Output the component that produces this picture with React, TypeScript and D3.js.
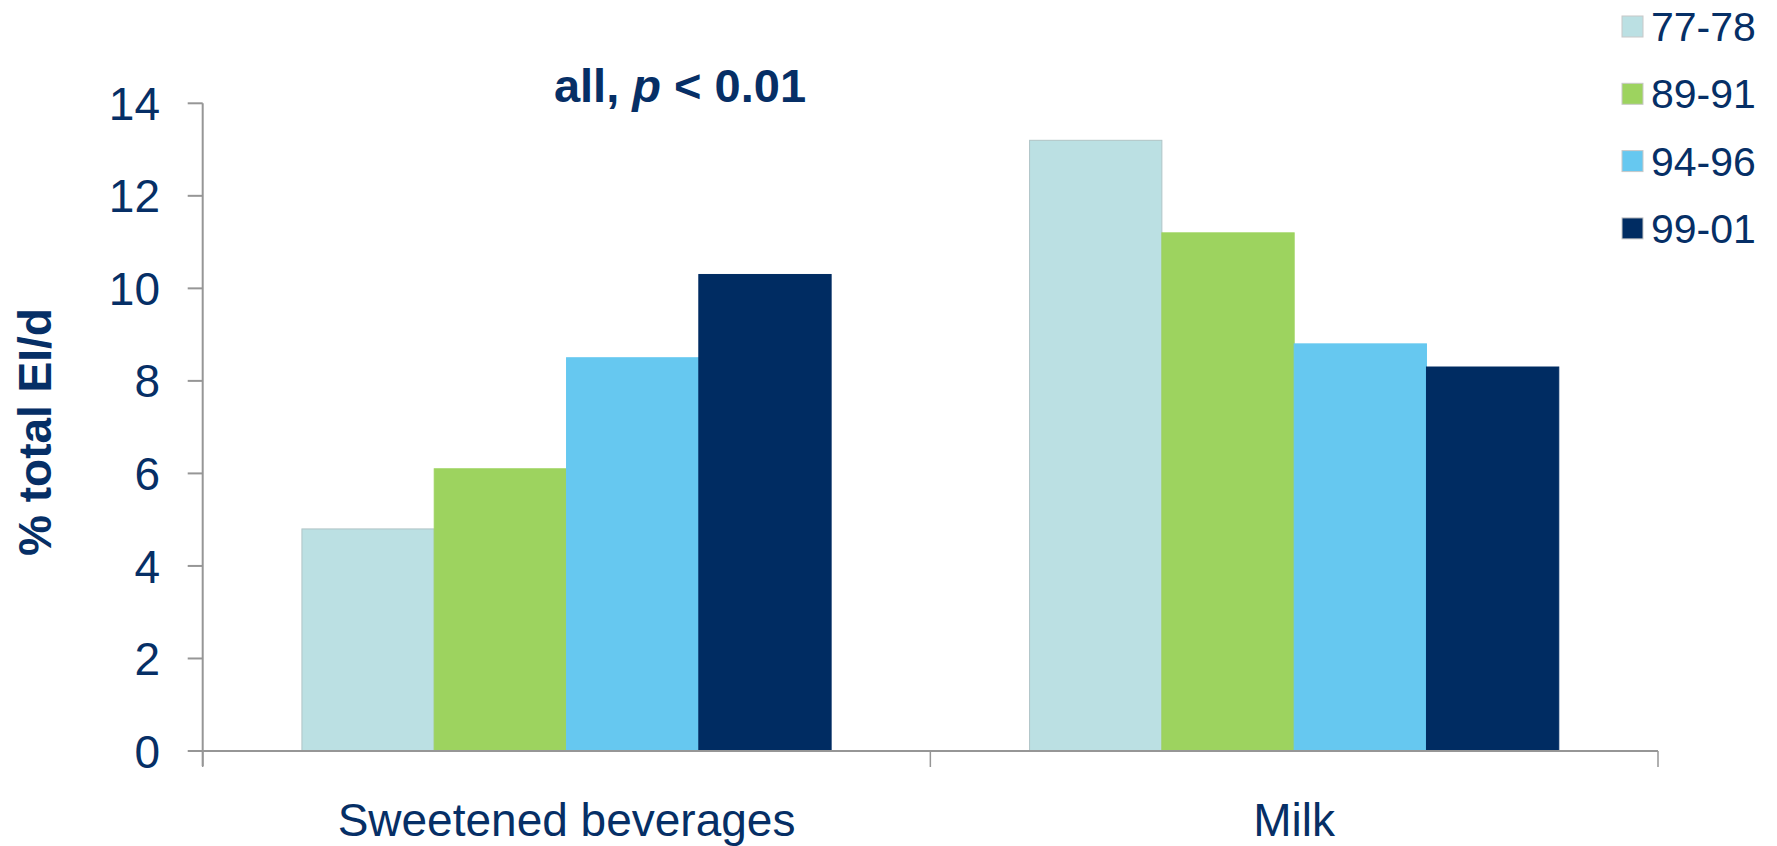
import React from "react";
import * as d3 from "d3";

const categories = ["Sweetened beverages", "Milk"];
const series = ["77-78", "89-91", "94-96", "99-01"];
const sweetenedValues = [4.8, 6.1, 8.5, 10.3];
const milkValues = [13.2, 11.2, 8.8, 8.3];
const yTicks = [0, 2, 4, 6, 8, 10, 12, 14];
const colors = ["#BBE0E3", "#9DD35F", "#66C8F0", "#002C62"];
const strokes = ["#B0C4C6", "#9DD35F", "#66C8F0", "#002C62"];

const W = 1777;
const H = 846;
const TEXT = "#062F66";
const AXIS = "#969696";
const FONT = "'Liberation Sans', Arial, sans-serif";

export default function App() {
  const x0 = 202.7;
  const x1 = 1658;
  const yBottom = 751;
  const yTop = 103.3;

  const x = d3.scaleBand<string>().domain(categories).range([x0, x1]).padding(0);
  const xs = d3
    .scaleBand<string>()
    .domain(series)
    .range([0, x.bandwidth()])
    .paddingInner(0)
    .paddingOuter(0.75);
  const y = d3.scaleLinear().domain([0, 14]).range([yBottom, yTop]);

  const data = [sweetenedValues, milkValues];

  return (
    <svg
      width={W}
      height={H}
      style={{ position: "absolute", left: 0, top: 0, background: "#fff" }}
      fontFamily={FONT}
    >
      <rect x={0} y={0} width={W} height={H} fill="#fff" />
      {/* bars */}
      {categories.map((c, ci) =>
        series.map((s, si) => {
          const v = data[ci][si];
          const bx = (x(c) as number) + (xs(s) as number);
          return (
            <rect
              key={c + s}
              x={bx}
              y={y(v)}
              width={xs.bandwidth()}
              height={y(0) - y(v)}
              fill={colors[si]}
              stroke={strokes[si]}
              strokeWidth={1}
            />
          );
        })
      )}
      {/* y axis */}
      <line x1={x0} x2={x0} y1={yTop} y2={yBottom + 15} stroke={AXIS} strokeWidth={2} />
      {yTicks.map((t) => (
        <g key={t}>
          <line x1={x0 - 15} x2={x0} y1={y(t)} y2={y(t)} stroke={AXIS} strokeWidth={2} />
          <text
            x={160}
            y={y(t)}
            dy="0.36em"
            textAnchor="end"
            fontSize={46}
            fill={TEXT}
          >
            {t}
          </text>
        </g>
      ))}
      {/* x axis */}
      <line x1={x0} x2={x1} y1={yBottom} y2={yBottom} stroke={AXIS} strokeWidth={2} />
      {[...categories.map((c) => x(c) as number), x1].map((tx, i) => (
        <line key={i} x1={tx} x2={tx} y1={yBottom} y2={yBottom + 16} stroke={AXIS} strokeWidth={1.5} />
      ))}
      {categories.map((c) => (
        <text
          key={c}
          x={(x(c) as number) + x.bandwidth() / 2}
          y={836}
          textAnchor="middle"
          fontSize={46}
          fill={TEXT}
        >
          {c}
        </text>
      ))}
      {/* y label */}
      <text
        transform={`translate(51,432) rotate(-90)`}
        textAnchor="middle"
        fontSize={46}
        fontWeight="bold"
        fill={TEXT}
      >
        % total EI/d
      </text>
      {/* title */}
      <text x={680} y={102} textAnchor="middle" fontSize={47} fontWeight="bold" fill={TEXT}>
        all, <tspan fontStyle="italic">p</tspan> {"< 0.01"}
      </text>
      {/* legend */}
      {series.map((s, i) => {
        const cy = 26.5 + i * 67.3;
        return (
          <g key={s}>
            <rect
              x={1622}
              y={cy - 10.5}
              width={21}
              height={21}
              fill={colors[i]}
              stroke="#C8C8C8"
              strokeWidth={1}
            />
            <text x={1651} y={cy + 14.5} fontSize={41} fill={TEXT}>
              {s}
            </text>
          </g>
        );
      })}
    </svg>
  );
}
